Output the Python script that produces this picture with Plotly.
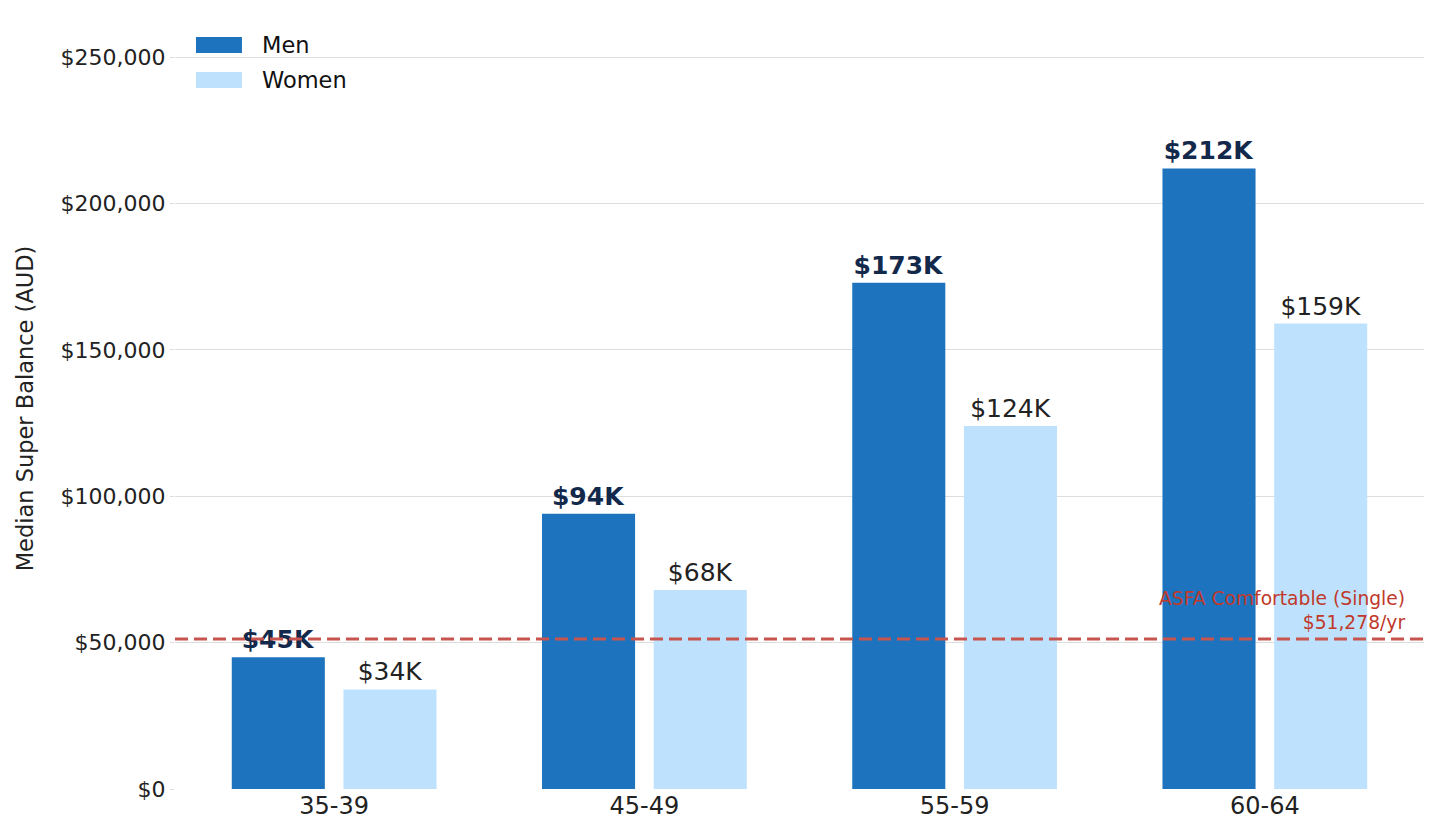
import plotly.graph_objects as go

age_groups = ["35-39", "45-49", "55-59", "60-64"]
men_balance = [45000, 94000, 173000, 212000]
women_balance = [34000, 68000, 124000, 159000]
asfa_value = 51278
asfa_label = "ASFA Comfortable (Single)<br>$51,278/yr"
y_ticks = [0, 50000, 100000, 150000, 200000, 250000]
y_tick_labels = ["$0", "$50,000", "$100,000", "$150,000", "$200,000", "$250,000"]
series_names = ["Men", "Women"]

FONT = "DejaVu Sans"
MEN_COLOR = "#1E73BE"
WOMEN_COLOR = "#BEE2FD"
series_colors = [MEN_COLOR, WOMEN_COLOR]

def k_label(v):
    return f"${v / 1000:.0f}K"

fig = go.Figure()
fig.add_trace(go.Bar(
    x=age_groups, y=men_balance, name=series_names[0],
    marker=dict(color=MEN_COLOR, line=dict(width=0)),
    width=0.3, offset=-0.33,
    text=[k_label(v) for v in men_balance], textposition="outside",
    textfont=dict(family=FONT, size=25, color="#13294B", weight="bold"),
    cliponaxis=False, hoverinfo="x+y",
))
fig.add_trace(go.Bar(
    x=age_groups, y=women_balance, name=series_names[1],
    marker=dict(color=WOMEN_COLOR, line=dict(width=0)),
    width=0.3, offset=0.03,
    text=[k_label(v) for v in women_balance], textposition="outside",
    textfont=dict(family=FONT, size=25, color="#222222"),
    cliponaxis=False, hoverinfo="x+y",
))

fig.add_shape(
    type="line", xref="paper", x0=0, x1=1, yref="y", y0=asfa_value, y1=asfa_value,
    line=dict(color="#C8554D", width=3, dash="13px,6px"), layer="above",
)
fig.add_annotation(
    xref="paper", x=0.9865, yref="y", y=asfa_value, xanchor="right", yanchor="bottom",
    yshift=4, text=asfa_label, showarrow=False, align="right",
    font=dict(family=FONT, size=18.7, color="#C0392B"),
)

# Legend drawn as swatches + labels (paper coordinates)
legend_rows_y = [0.9777, 0.9317]
for name, color, yc in zip(series_names, series_colors, legend_rows_y):
    fig.add_shape(
        type="rect", xref="paper", yref="paper",
        x0=0.0168, x1=0.0536, y0=yc - 0.0105, y1=yc + 0.0105,
        fillcolor=color, line=dict(width=0), layer="above",
    )
    fig.add_annotation(
        xref="paper", yref="paper", x=0.0681, y=yc, xanchor="left", yanchor="middle",
        text=name, showarrow=False, font=dict(family=FONT, size=22.5, color="#111111"),
    )

fig.update_layout(
    width=1439, height=835,
    barmode="overlay",
    plot_bgcolor="white", paper_bgcolor="white",
    font=dict(family=FONT, color="#222222"),
    margin=dict(l=175, r=15, t=28, b=46),
    showlegend=False,
    xaxis=dict(
        range=[-0.513, 3.513], showgrid=False, showline=False, zeroline=False,
        tickfont=dict(family=FONT, size=24, color="#222222"), ticks="",
    ),
    yaxis=dict(
        range=[0, 260000], tickvals=y_ticks, ticktext=y_tick_labels,
        showgrid=True, gridcolor="#DDDDDD", gridwidth=1, zeroline=False, showline=False,
        ticks="outside", ticklen=4, tickcolor="#DDDDDD",
        tickfont=dict(family=FONT, size=22, color="#222222"),
        title=dict(text="Median Super Balance (AUD)", font=dict(family=FONT, size=22.5, color="#222222"), standoff=20),
    ),
)

fig.write_html("out.html")
